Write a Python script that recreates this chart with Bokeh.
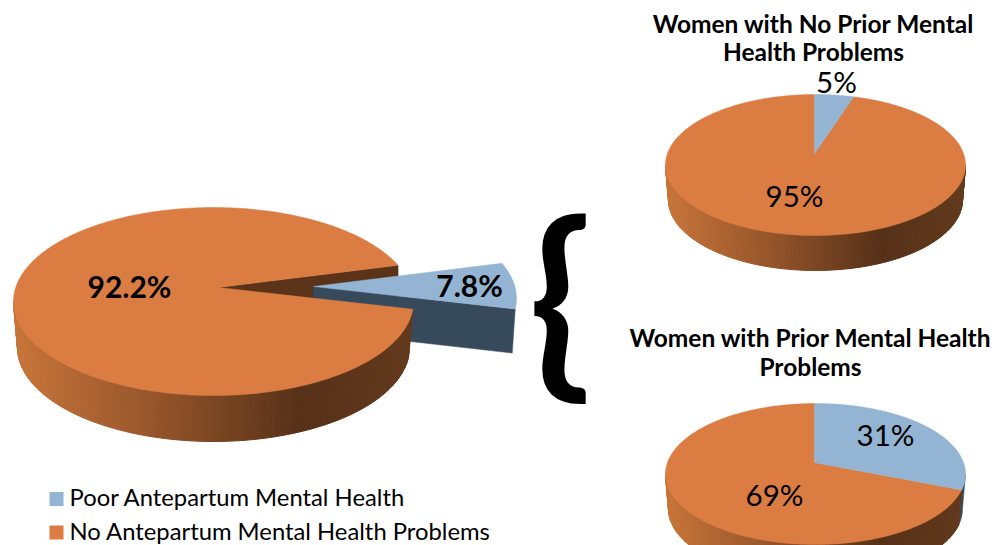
import math
from bokeh.plotting import figure
from bokeh.core.properties import value
from bokeh.embed import file_html
from bokeh.resources import INLINE

# ---- data ----
main_values = [7.8, 92.2]
no_prior_values = [5, 95]
prior_values = [31, 69]
main_labels = ["7.8%", "92.2%"]
no_prior_labels = ["5%", "95%"]
prior_labels = ["31%", "69%"]
legend_labels = ["Poor Antepartum Mental Health", "No Antepartum Mental Health Problems"]
title_no_prior = ["Women with No Prior Mental", "Health Problems"]
title_prior = ["Women with Prior Mental Health", "Problems"]

# ---- style ----
ORANGE = "#DB7D43"
BLUE = "#93B4D2"
DARK_BLUE = "#364A5C"
BROWN = "#5A3318"
STOPS = [(0.0, (200, 117, 57)), (0.35, (150, 85, 43)), (0.72, (86, 49, 24)), (1.0, (98, 57, 28))]
FONT = "Lato"
TAPER = 0.98

p = figure(width=1002, height=545, x_range=(0, 1002), y_range=(545, 0),
           output_backend="svg", toolbar_location=None, min_border=0)
p.axis.visible = False
p.grid.visible = False
p.outline_line_color = None
p.background_fill_color = "white"


def rim(g, theta):
    """Point where a ray from the apex at angle theta (clockwise from top) meets the ellipse."""
    cx, cy, rx, ry, ax, ay = g
    k = ry / rx
    dx, dy = math.sin(theta), -math.cos(theta) * k
    ox, oy = ax - cx, ay - cy
    A = (dx / rx) ** 2 + (dy / ry) ** 2
    B = 2 * (ox * dx / rx ** 2 + oy * dy / ry ** 2)
    C = (ox / rx) ** 2 + (oy / ry) ** 2 - 1
    s = (-B + math.sqrt(B * B - 4 * A * C)) / (2 * A)
    return ax + s * dx, ay + s * dy


def slice_poly(g, t0, t1, n=160):
    xs, ys = [g[4]], [g[5]]
    for i in range(n + 1):
        x, y = rim(g, t0 + (t1 - t0) * i / n)
        xs.append(x)
        ys.append(y)
    return xs, ys


def shade(f):
    for (a, ca), (b, cb) in zip(STOPS, STOPS[1:]):
        if f <= b:
            u = (f - a) / (b - a)
            c = [round(ca[i] + (cb[i] - ca[i]) * u) for i in range(3)]
            return "#%02x%02x%02x" % tuple(c)
    return "#%02x%02x%02x" % STOPS[-1][1]


def side(g, depth, end_x, end_y, n=110):
    """Gradient side wall of the pie, below the rim, from the left extreme to the cut point."""
    cx, cy, rx, ry, _, _ = g
    t_end = math.atan2((end_y - cy) / ry, (end_x - cx) / rx)
    # y is downward: angle runs pi (left) -> pi/2 (bottom) -> 0 (right)
    lo, hi = math.pi, t_end
    xss, yss, cols = [], [], []
    for i in range(n):
        a = lo + (hi - lo) * i / n
        b = lo + (hi - lo) * (i + 1) / n
        xa, ya = cx + rx * math.cos(a), cy + ry * math.sin(a)
        xb, yb = cx + rx * math.cos(b), cy + ry * math.sin(b)
        xa2, xb2 = cx + rx * TAPER * math.cos(a), cx + rx * TAPER * math.cos(b)
        xss.append([xa, xb, xb2, xa2])
        yss.append([ya, yb, yb + depth, ya + depth])
        cols.append(shade((0.5 * (xa + xb) - (cx - rx)) / (2 * rx)))
    p.patches(xss, yss, fill_color=cols, line_color=cols, line_width=1)


# ---- main pie with exploded slice ----
MAIN = (213, 301, 200, 94, 217.5, 287)
MAIN_BLUE = (316, 298, 200, 94, 313, 286)
MAIN_DEPTH = 46
main_start = math.radians(75.3)
blue_sweep = 2 * math.pi * main_values[0] / sum(main_values)
orange_sweep = 2 * math.pi * main_values[1] / sum(main_values)
t_a = main_start
t_b = main_start + blue_sweep

# wall visible inside the gap
rx0, ry0 = rim(MAIN, t_a)
p.patch([MAIN[4], rx0, rx0, MAIN[4]], [MAIN[5], ry0, ry0 + MAIN_DEPTH, MAIN[5] + MAIN_DEPTH],
        fill_color=BROWN, line_color=BROWN, line_width=0.5)
# exploded slice
bx1, by1 = rim(MAIN_BLUE, t_b)
p.patch([MAIN_BLUE[4], bx1, bx1 - 3, MAIN_BLUE[4]],
        [MAIN_BLUE[5], by1, by1 + MAIN_DEPTH - 2, MAIN_BLUE[5] + MAIN_DEPTH - 2],
        fill_color=DARK_BLUE, line_color=DARK_BLUE, line_width=0.5)
xs, ys = slice_poly(MAIN_BLUE, t_a, t_b)
p.patch(xs, ys, fill_color=BLUE, line_color=BLUE, line_width=0.5)
# orange body
ex, ey = rim(MAIN, t_b)
side(MAIN, MAIN_DEPTH, ex, ey)
xs, ys = slice_poly(MAIN, t_b, t_b + orange_sweep, 400)
p.patch(xs, ys, fill_color=ORANGE, line_color=ORANGE, line_width=0.5)


# ---- small pies ----
def small_pie(cy, values, depth):
    g = (815, cy, 150, 70.5, 814, cy - 11.5)
    sweep = 2 * math.pi * values[0] / sum(values)
    ex, ey = rim(g, sweep)
    if ey > cy:
        # the blue slice reaches the front: its wall is a dark sliver on the right
        cx, _, rx, ry, _, _ = g
        t_end = math.atan2((ey - cy) / ry, (ex - cx) / rx)
        n = 12
        ang = [t_end * i / n for i in range(n + 1)]
        top_x = [cx + rx * math.cos(a) for a in ang]
        top_y = [cy + ry * math.sin(a) for a in ang]
        bot_x = [cx + rx * TAPER * math.cos(a) for a in reversed(ang)]
        bot_y = [cy + ry * math.sin(a) + depth for a in reversed(ang)]
        p.patch(top_x + bot_x, top_y + bot_y,
                fill_color=DARK_BLUE, line_color=DARK_BLUE, line_width=0.5)
        side(g, depth, ex, ey)
    else:
        side(g, depth, g[0] + g[2], cy)
    xs, ys = slice_poly(g, sweep, 2 * math.pi, 300)
    p.patch(xs, ys, fill_color=ORANGE, line_color=ORANGE, line_width=0.5)
    xs, ys = slice_poly(g, 0, sweep, 100)
    p.patch(xs, ys, fill_color=BLUE, line_color=BLUE, line_width=0.5)


small_pie(164.5, no_prior_values, 35)
small_pie(473.5, prior_values, 35)


# ---- texts ----
def label(x, y, txt, size, style="normal", align="center", font=FONT):
    p.text([x], [y], text=[txt], text_font=value(font), text_font_size=f"{size}px",
           text_font_style=style, text_color="black", text_align=align, text_baseline="middle")


label(129, 285.5, main_labels[1], 30, "bold")
label(469, 284.5, main_labels[0], 30, "bold")
label(836, 80.5, no_prior_labels[0], 29.5)
label(794, 194.5, no_prior_labels[1], 29.5)
label(885, 433.5, prior_labels[0], 29.5)
label(774, 493.5, prior_labels[1], 29.5)

label(813, 23, title_no_prior[0], 24.5, "bold")
label(813, 51, title_no_prior[1], 24.5, "bold")
label(810, 337, title_prior[0], 24.5, "bold")
label(810, 366, title_prior[1], 24.5, "bold")

# legend
p.scatter([56, 56], [498.5, 532], size=14, marker="square", fill_color=[BLUE, ORANGE], line_color=None)
label(69, 496.5, legend_labels[0], 23.8, "normal", "left")
label(69, 530.5, legend_labels[1], 23.8, "normal", "left")

# brace
label(559.5, 292, "{", 206, "bold", "center", "Lato")

open("out.html", "w").write(file_html(p, INLINE))
